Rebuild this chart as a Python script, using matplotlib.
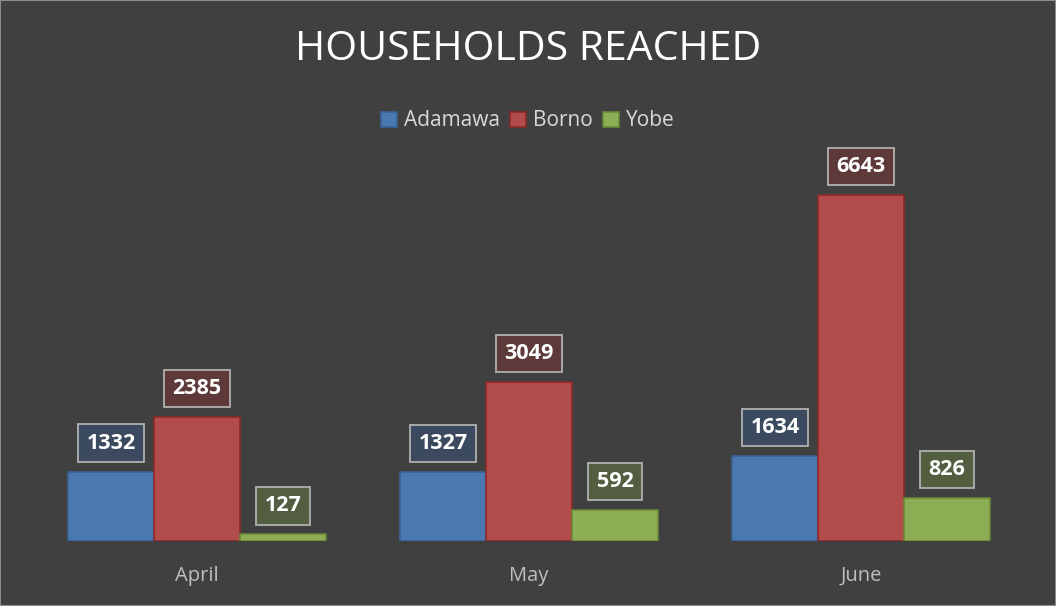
import matplotlib

matplotlib.use("Agg")
import matplotlib.pyplot as plt  # noqa: E402
import numpy as np  # noqa: E402

months = ["April", "May", "June"]
states = ["Adamawa", "Borno", "Yobe"]
adamawa = [1332, 1327, 1634]
borno = [2385, 3049, 6643]
yobe = [127, 592, 826]

colors = ["#4a78b0", "#b24c4a", "#8dae55"]
edges = ["#3a6396", "#8a2a28", "#6a8a38"]
label_faces = ["#3b4a5e", "#5e3939", "#535e40"]
bg = "#404040"

plt.rcParams["font.family"] = ["Open Sans", "DejaVu Sans"]

fig = plt.figure(figsize=(10.56, 6.06), dpi=100, facecolor=bg)
ax = fig.add_axes([31 / 1056, 65 / 606, 996 / 1056, 391 / 606], facecolor=bg)

x = np.arange(len(months))
w = 86 / 332
for i, (name, vals) in enumerate(zip(states, [adamawa, borno, yobe])):
    pos = x + (i - 1) * w
    ax.bar(pos, vals, width=w, color=colors[i], edgecolor=edges[i], linewidth=1.2, label=name)
    for px, v in zip(pos, vals):
        ax.annotate(str(v), (px, v), xytext=(0, 20.5), textcoords="offset points",
                    ha="center", va="center", color="white", fontsize=15.5, fontweight="bold",
                    bbox=dict(boxstyle="square,pad=0.38", facecolor=label_faces[i],
                              edgecolor="#b0b0b0", linewidth=1.3))

ax.set_xlim(-0.5, 2.5)
ax.set_ylim(0, 7500)
ax.set_xticks(x)
ax.set_xticklabels(months, color="#bfbfbf", fontsize=14.5)
ax.tick_params(axis="x", length=0, pad=18)
ax.set_yticks([])
for s in ax.spines.values():
    s.set_visible(False)

fig.text(0.5, 1 - 50 / 606, "HOUSEHOLDS REACHED", ha="center", va="center", color="white", fontsize=29.5)
fig.legend(loc="center", bbox_to_anchor=(0.5, 1 - 121 / 606), ncol=3, frameon=False,
           labelcolor="#d9d9d9", fontsize=15, handlelength=0.75, handleheight=0.75,
           handletextpad=0.35, columnspacing=0.5)

fig.patches.append(plt.Rectangle((0, 0), 1, 1, transform=fig.transFigure, fill=False,
                                 edgecolor="#8c8c8c", linewidth=1.5))
fig.savefig("out.png", dpi=100, facecolor=bg)
